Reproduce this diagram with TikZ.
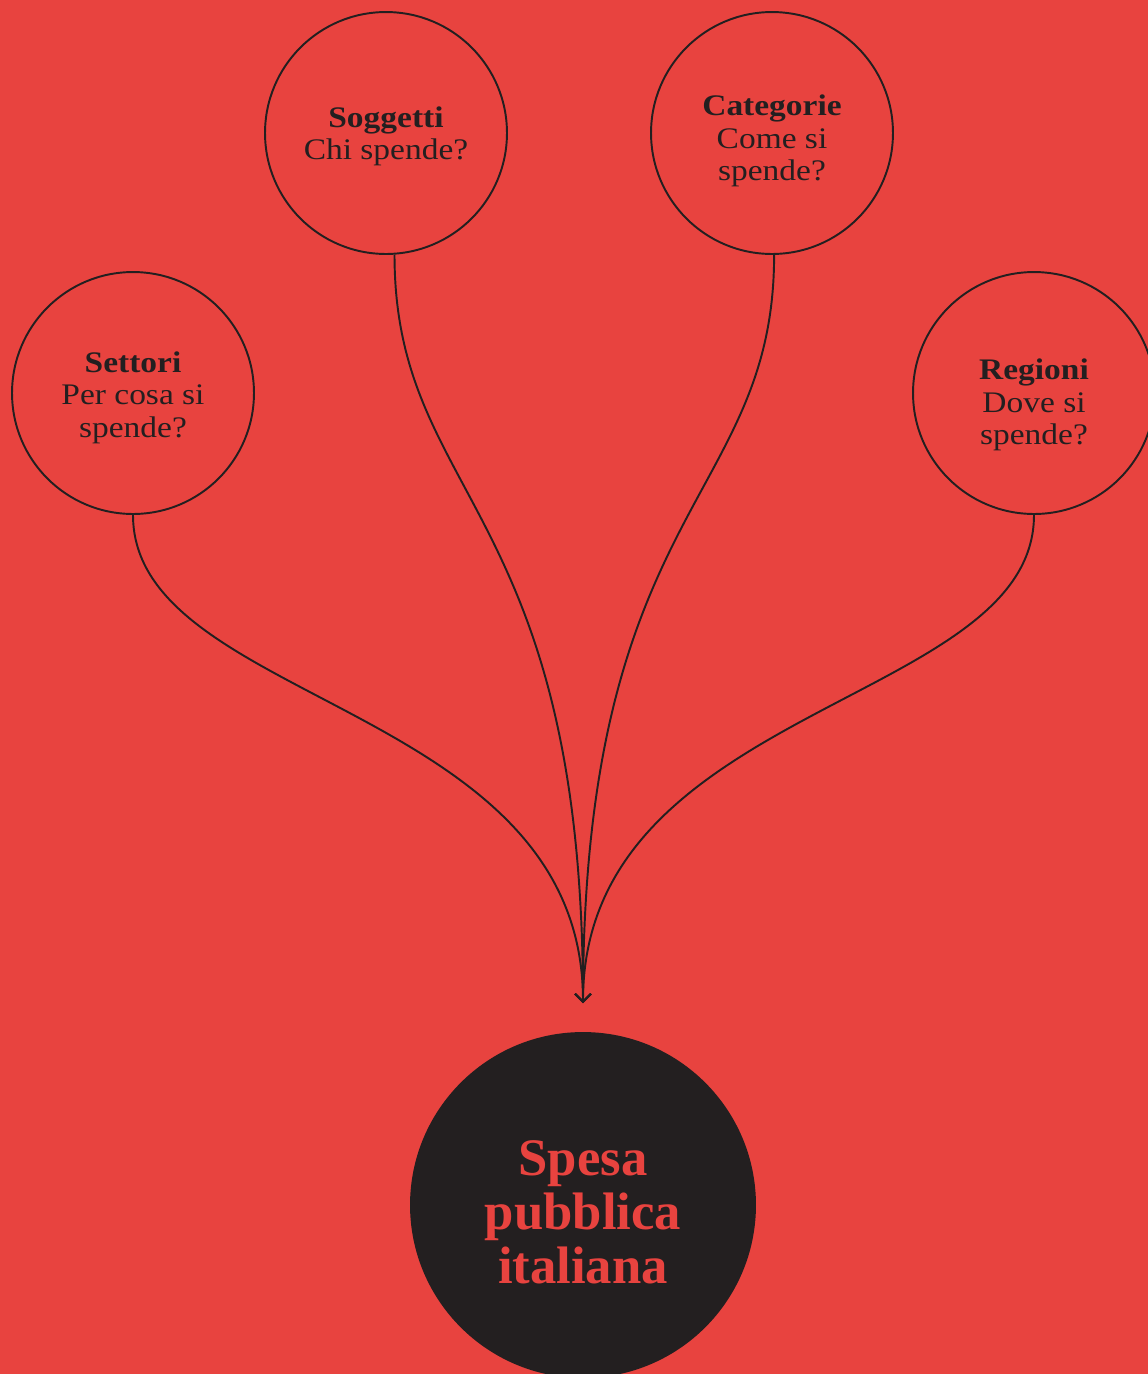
\documentclass[tikz,border=0pt]{standalone}
\usepackage{fontspec}
\setmainfont{Liberation Serif}
\newfontfamily\qfont[FakeStretch=1.12]{Liberation Serif}
\usetikzlibrary{arrows.meta}
\definecolor{spesared}{HTML}{E8433F}
\definecolor{spesadark}{HTML}{231F20}
\begin{document}
\begin{tikzpicture}[x=0.02cm,y=-0.02cm,
  question/.style={circle,draw=spesadark,line width=1.1pt,minimum size=4.84cm,inner sep=0pt},
  qtext/.style={align=center,text=spesadark,inner sep=0pt,
    font=\qfont\fontsize{17}{18.4}\selectfont},
  flow/.style={draw=spesadark,line width=1.1pt,-{Straight Barb[length=4.5pt,width=9pt]}}]
% background
\clip (0,0) rectangle (1148,1374);
\fill[spesared] (0,0) rectangle (1148,1374);

% question circles
\node[question,label={[qtext,yshift=-2.6pt]center:{\textbf{Settori}\\Per cosa si\\spende?}}]
  (settori) at (133,393) {};
\node[question,label={[qtext,yshift=-1.7pt]center:{\textbf{Soggetti}\\Chi spende?}}]
  (soggetti) at (386,133) {};
\node[question,label={[qtext,yshift=-4.5pt]center:{\textbf{Categorie}\\Come si\\spende?}}]
  (categorie) at (772,133) {};
\node[question,label={[qtext,yshift=-6.8pt]center:{\textbf{Regioni}\\Dove si\\spende?}}]
  (regioni) at (1034,393) {};

% main circle
\node[circle,fill=spesadark,minimum size=6.92cm,inner sep=0pt,
  label={[align=center,text=spesared,yshift=-4pt,
    font=\bfseries\fontsize{30}{30.6}\selectfont]center:{Spesa\\pubblica\\italiana}}]
  (spesa) at (583,1205) {};

% flows into the arrow tip
\coordinate (tip) at (583,1003);
\draw[flow] (settori.south) .. controls +(0,190) and +(0,-300) .. (tip);
\draw[flow] (soggetti.-86) .. controls +(0,246) and +(0,-500) .. (tip);
\draw[flow] (categorie.-89) .. controls +(0,246) and +(0,-500) .. (tip);
\draw[flow] (regioni.south) .. controls +(0,190) and +(0,-300) .. (tip);
\end{tikzpicture}
\end{document}
